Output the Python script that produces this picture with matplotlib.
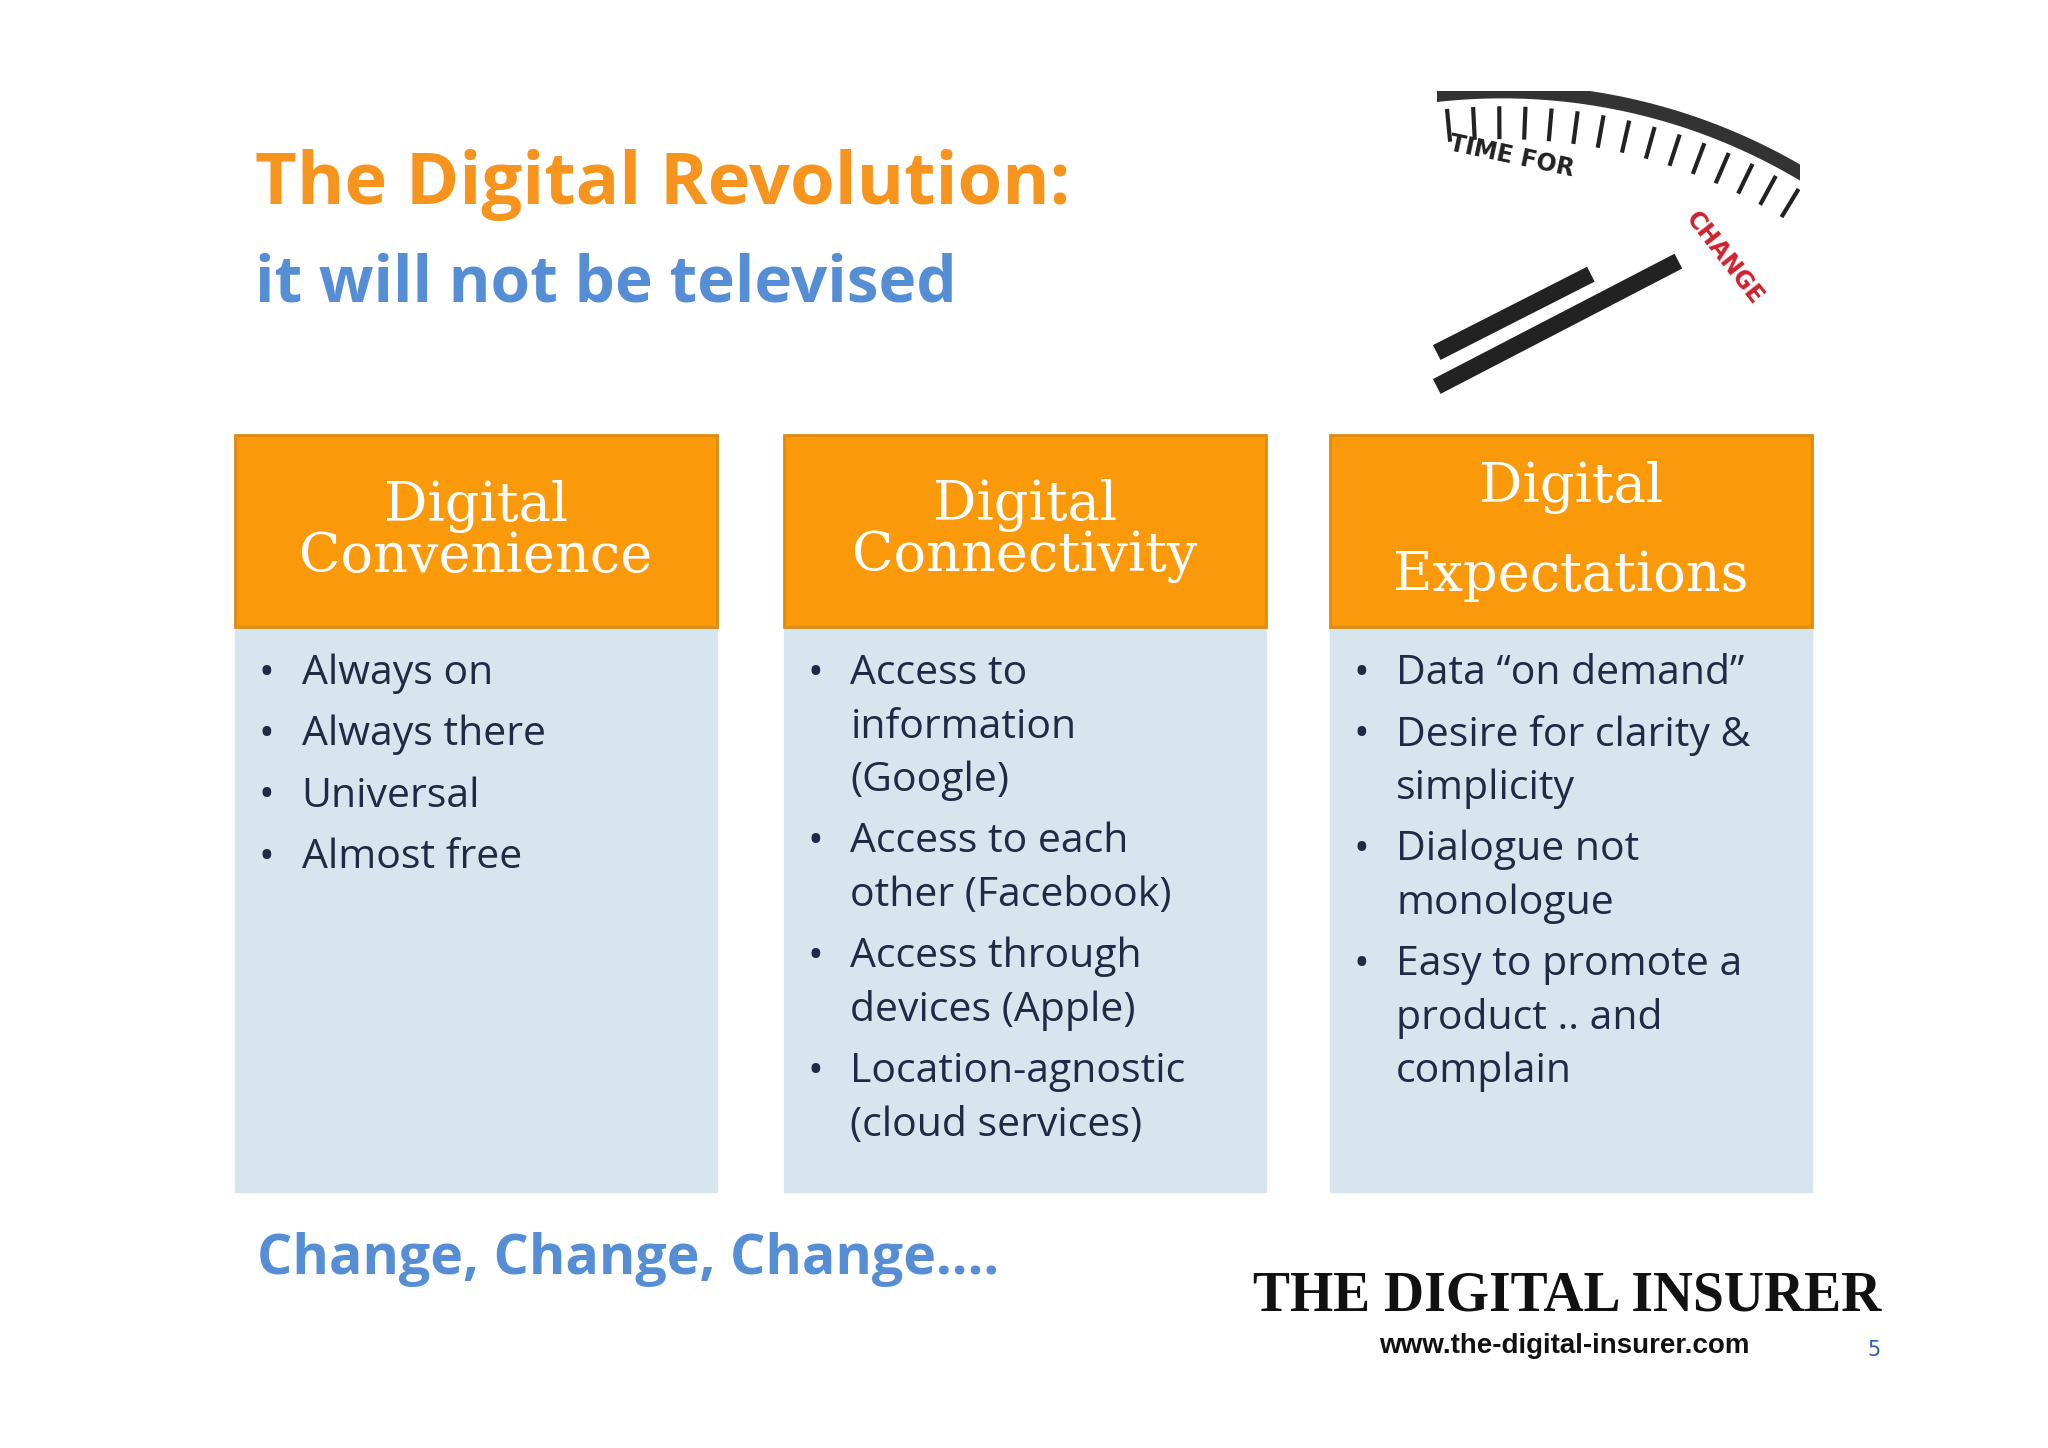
import numpy as np
import matplotlib.pyplot as plt
from matplotlib.patches import Rectangle

headers = ["Digital\nConvenience", "Digital\nConnectivity", "Digital\n\nExpectations"]
bullets = [
    [["Always on"], ["Always there"], ["Universal"], ["Almost free"]],
    [["Access to", "information", "(Google)"], ["Access to each", "other (Facebook)"],
     ["Access through", "devices (Apple)"], ["Location-agnostic", "(cloud services)"]],
    [["Data \u201con demand\u201d"], ["Desire for clarity &", "simplicity"],
     ["Dialogue not", "monologue"], ["Easy to promote a", "product .. and", "complain"]],
]
col_x = [180, 600, 1018]
col_w = 369

fig = plt.figure(figsize=(20.48, 14.48), dpi=100)
ax = fig.add_axes([0, 0, 1, 1])
ax.set_xlim(0, 1568)
ax.set_ylim(1109, 0)
ax.axis('off')

sans = 'Open Sans'
ax.text(195, 142, "The Digital Revolution:", color='#F7941D', fontsize=52,
        fontweight='bold', family=sans, va='center')
ax.text(195, 218, "it will not be televised", color='#558ED5', fontsize=46,
        fontweight='bold', family=sans, va='center')

# clock (simplified, cropped to the photo box)
clip = Rectangle((1100, 70), 278, 228, transform=ax.transData)
cx, cy, R = 1150, 520, 450
ang = np.radians(np.linspace(20, 110, 200))
arts = ax.plot(cx + R*np.cos(ang), cy - R*np.sin(ang), color='#333333', lw=10)
for a in np.linspace(30, 106, 30):
    r = np.radians(a)
    arts += ax.plot([cx + 415*np.cos(r), cx + 437*np.cos(r)],
                    [cy - 415*np.sin(r), cy - 437*np.sin(r)], color='#222222', lw=3)
for a in arts:
    a.set_clip_path(clip)
ax.text(1108, 120, "TIME FOR", fontsize=17, fontweight='bold', family='DejaVu Sans',
        rotation=-12, color='#222222', va='center')
ax.text(1320, 198, "CHANGE", fontsize=17, fontweight='bold', family='DejaVu Sans',
        rotation=-52, color='#D0202E', ha='center', va='center')
ax.plot([1100, 1218], [270, 210], color='#222222', lw=12, solid_capstyle='butt')
ax.plot([1100, 1285], [296, 200], color='#222222', lw=12, solid_capstyle='butt')

for i, x in enumerate(col_x):
    ax.add_patch(Rectangle((x, 480), col_w, 433, color='#D7E6EE'))
    ax.add_patch(Rectangle((x, 333), col_w, 147, color='#FA9A0A', ec='#E08A10', lw=2))
    ax.text(x + col_w/2, 407, headers[i], color='white', fontsize=39, family='DejaVu Serif',
            ha='center', va='center', linespacing=0.95 if i < 2 else 0.8)
    y = 516
    for item in bullets[i]:
        ax.text(x + 18, y, "\u2022", fontsize=30, color='#1F2A44', va='center', family=sans)
        for ln in item:
            ax.text(x + 51, y, ln, fontsize=29.5, color='#1F2A44', va='center', family=sans)
            y += 41
        y += 6

ax.text(197, 965, "Change, Change, Change\u2026.", color='#558ED5', fontsize=40,
        fontweight='bold', family=sans, va='center')
ax.text(1200, 993, "THE DIGITAL INSURER", fontsize=40, fontweight='bold',
        family='Liberation Serif', ha='center', va='center', color='#111111')
ax.text(1198, 1031, "www.the-digital-insurer.com", fontsize=20, fontweight='bold',
        family='Liberation Sans', ha='center', va='center', color='#111111')
ax.text(1435, 1034, "5", fontsize=15, color='#2E5FA8', ha='center', va='center')

fig.savefig('out.png', dpi=100)
